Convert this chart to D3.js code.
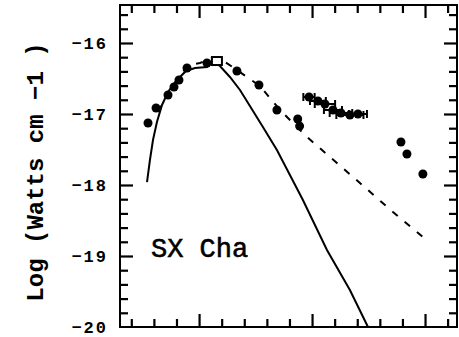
<!DOCTYPE html>
<html><head><meta charset="utf-8">
<script src="https://cdn.jsdelivr.net/npm/d3@7"></script>
<style>body{margin:0;background:#fff}svg{display:block}</style>
</head><body>
<svg id="c" width="459" height="337"></svg>
<script>
// ---- data (x: log wavelength, y: log flux) ----
const yTickValues = [-16, -17, -18, -19, -20];
const yTickLabels = ["\u221216", "\u221217", "\u221218", "\u221219", "\u221220"];
const xMajorTicks = [0, 1, 2];
const xMinorTicks = [-0.6, -0.4, -0.2, 0.2, 0.4, 0.6, 0.8, 1.2, 1.4, 1.6, 1.8, 2.2];
const yMinorTicks = [-19.8, -19.6, -19.4, -19.2, -18.8, -18.6, -18.4, -18.2, -17.8, -17.6, -17.4, -17.2, -16.8, -16.6, -16.4, -16.2, -15.8, -15.6];
const yLabel = "Log (Watts cm \u22121 )";
const starName = "SX Cha";

const photX = [-0.452, -0.381, -0.275, -0.222, -0.178, -0.107, 0.070, 0.335, 0.530, 0.689, 0.873, 0.890, 1.787, 1.840, 1.981];
const photY = [-17.127, -16.915, -16.732, -16.620, -16.521, -16.352, -16.282, -16.394, -16.592, -16.944, -17.070, -17.170, -17.394, -17.563, -17.845];

const specX = [0.973, 1.052, 1.114, 1.185, 1.256, 1.335, 1.406];
const specY = [-16.761, -16.817, -16.859, -16.944, -16.986, -17.014, -17.000];
const specXerr = [0.05, 0.07, 0.09, 0.08, 0.10, 0.12, 0.08];

const openX = [0.158];
const openY = [-16.254];

const photosphereX = [-0.461, -0.435, -0.408, -0.373, -0.328, -0.275, -0.204, -0.116, -0.036, 0.070, 0.123, 0.185, 0.273, 0.362, 0.450, 0.565, 0.689, 0.804, 0.919, 1.132, 1.335, 1.495];
const photosphereY = [-17.958, -17.648, -17.366, -17.113, -16.873, -16.690, -16.535, -16.394, -16.352, -16.338, -16.268, -16.324, -16.479, -16.662, -16.887, -17.183, -17.507, -17.859, -18.211, -18.915, -19.479, -20.0];

const diskX = [-0.364, -0.293, -0.204, -0.098, 0.008, 0.114, 0.203, 0.335, 0.539, 0.716, 0.955, 1.220, 1.424, 1.716, 1.981];
const diskY = [-16.972, -16.761, -16.549, -16.310, -16.282, -16.211, -16.239, -16.380, -16.606, -16.944, -17.324, -17.690, -17.972, -18.380, -18.732];

// ---- layout ----
const L = 120, R = 457, T = 5, B = 327;
const x = d3.scaleLinear().domain([-0.7, 2.283]).range([L, R]);
const y = d3.scaleLinear().domain([-20, -15.465]).range([B, T]);
const svg = d3.select("#c");

function tickAxis(axisFn, scale, values, size, tx, ty) {
  const g = svg.append("g").attr("transform", `translate(${tx},${ty})`)
    .call(axisFn(scale).tickValues(values).tickSize(-size).tickFormat(""));
  g.select(".domain").remove();
  g.selectAll("line").attr("stroke", "#000").attr("stroke-width", 2.2);
  return g;
}
const yMajorInner = yTickValues.filter(v => v > -20);
tickAxis(d3.axisBottom, x, xMinorTicks, 8, 0, B);
tickAxis(d3.axisBottom, x, xMajorTicks, 13, 0, B);
tickAxis(d3.axisTop, x, xMinorTicks, 8, 0, T);
tickAxis(d3.axisTop, x, xMajorTicks, 13, 0, T);
tickAxis(d3.axisLeft, y, yMinorTicks, 8, L, 0);
tickAxis(d3.axisLeft, y, yMajorInner, 13, L, 0);
tickAxis(d3.axisRight, y, yMinorTicks, 8, R, 0);
tickAxis(d3.axisRight, y, yMajorInner, 13, R, 0);

// frame
svg.append("rect").attr("x", L).attr("y", T).attr("width", R - L).attr("height", B - T)
  .attr("fill", "none").attr("stroke", "#000").attr("stroke-width", 2);

// y tick labels
svg.append("g").selectAll("text").data(yTickValues).join("text")
  .attr("x", 108).attr("y", d => y(d)).attr("dy", "0.36em")
  .attr("text-anchor", "end")
  .attr("font-family", "Liberation Mono, DejaVu Sans Mono, monospace")
  .attr("font-weight", "bold").attr("font-size", 17).attr("letter-spacing", 2)
  .text((d, i) => yTickLabels[i]);

// y label
svg.append("text")
  .attr("transform", `translate(43,${(T + B) / 2 + 6}) rotate(-90)`)
  .attr("text-anchor", "middle")
  .attr("font-family", "Liberation Mono, DejaVu Sans Mono, monospace")
  .attr("font-weight", "bold").attr("font-size", 24)
  .text(yLabel);

// curves
const line = d3.line().x(d => x(d[0])).y(d => y(d[1]));
svg.append("path").datum(photosphereX.map((v, i) => [v, photosphereY[i]]))
  .attr("d", line).attr("fill", "none").attr("stroke", "#000").attr("stroke-width", 2);
svg.append("path").datum(diskX.map((v, i) => [v, diskY[i]]))
  .attr("d", line).attr("fill", "none").attr("stroke", "#000").attr("stroke-width", 2)
  .attr("stroke-dasharray", "7,9");

// error bars
const eb = svg.append("g").attr("stroke", "#000").attr("stroke-width", 2);
specX.forEach((v, i) => {
  const x0 = x(v - specXerr[i]), x1 = x(v + specXerr[i]), yy = y(specY[i]);
  eb.append("line").attr("x1", x0).attr("x2", x1).attr("y1", yy).attr("y2", yy);
  eb.append("line").attr("x1", x0).attr("x2", x0).attr("y1", yy - 4).attr("y2", yy + 4);
  eb.append("line").attr("x1", x1).attr("x2", x1).attr("y1", yy - 4).attr("y2", yy + 4);
});

// points
svg.append("g").selectAll("circle").data(photX.map((v, i) => [v, photY[i]]).concat(specX.map((v, i) => [v, specY[i]])))
  .join("circle").attr("cx", d => x(d[0])).attr("cy", d => y(d[1])).attr("r", 4.5).attr("fill", "#000");

svg.append("g").selectAll("rect").data(openX.map((v, i) => [v, openY[i]]))
  .join("rect").attr("x", d => x(d[0]) - 5).attr("y", d => y(d[1]) - 4)
  .attr("width", 10).attr("height", 8).attr("fill", "#fff").attr("stroke", "#000").attr("stroke-width", 2);

// star name
svg.append("text").attr("x", 151).attr("y", 257)
  .attr("font-family", "Liberation Mono, DejaVu Sans Mono, monospace")
  .attr("font-size", 27).attr("font-weight", "normal").attr("stroke", "#000").attr("stroke-width", 0.6)
  .text(starName);
</script>
</body></html>
